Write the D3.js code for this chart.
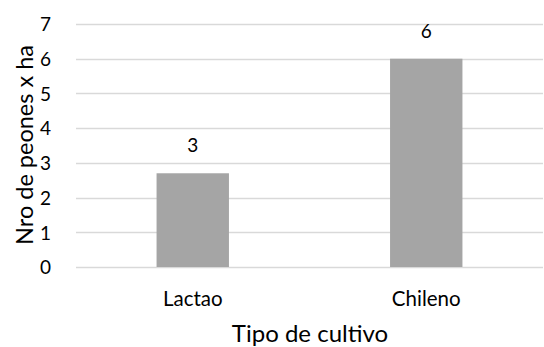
<!DOCTYPE html>
<html>
<head>
<meta charset="utf-8">
<script src="https://cdn.jsdelivr.net/npm/d3@7"></script>
<style>
  html, body { margin: 0; padding: 0; background: #fff; }
  svg text { font-family: Lato, "Open Sans", sans-serif; fill: #000; }
</style>
</head>
<body>
<svg id="chart" width="544" height="347"></svg>
<script>
// Labour demand per crop type
const categories = ["Lactao", "Chileno"];
const peones = [2.7, 6];
const yTicks = [0, 1, 2, 3, 4, 5, 6, 7];

const svg = d3.select("#chart");
const margin = { top: 24, right: 1, bottom: 80, left: 76 };
const W = 544, H = 347;
const innerW = W - margin.left - margin.right;
const innerH = H - margin.top - margin.bottom;

const g = svg.append("g").attr("transform", `translate(${margin.left},${margin.top})`);

const x = d3.scaleBand().domain(categories).range([0, innerW]).paddingInner(0.69).paddingOuter(0.345);
const y = d3.scaleLinear().domain([0, 7]).range([innerH, 0]);

// Horizontal gridlines
g.append("g")
  .selectAll("line")
  .data(yTicks)
  .join("line")
  .attr("x1", 0).attr("x2", innerW)
  .attr("y1", d => Math.round(y(d)) + 0.5).attr("y2", d => Math.round(y(d)) + 0.5)
  .attr("stroke", "#d9d9d9").attr("stroke-width", 1.5);

// Y axis labels
const yAxis = g.append("g").attr("transform", "translate(-25,0)")
  .call(d3.axisLeft(y).tickValues(yTicks).tickFormat(d3.format("d")).tickSize(0).tickPadding(0));
yAxis.select(".domain").remove();
yAxis.selectAll("text").style("font-size", "19px").attr("fill", "#000").attr("dy", "0.36em");

// Bars
g.selectAll("rect.bar")
  .data(peones)
  .join("rect")
  .attr("class", "bar")
  .attr("x", (d, i) => x(categories[i]))
  .attr("width", x.bandwidth())
  .attr("y", d => y(d))
  .attr("height", d => innerH - y(d))
  .attr("fill", "#a5a5a5");

// Value labels
g.selectAll("text.val")
  .data(peones)
  .join("text")
  .attr("class", "val")
  .attr("x", (d, i) => x(categories[i]) + x.bandwidth() / 2)
  .attr("y", d => y(d) - 28)
  .attr("text-anchor", "middle")
  .attr("dy", "0.36em")
  .style("font-size", "19px")
  .text(d3.format(".0f"));

// X axis labels
const xAxis = g.append("g").attr("transform", `translate(0,${innerH + 32})`)
  .call(d3.axisBottom(x).tickSize(0).tickPadding(0));
xAxis.select(".domain").remove();
xAxis.selectAll("text").style("font-size", "20.5px").attr("fill", "#000").attr("dy", "0.36em");

// Axis titles
svg.append("text")
  .attr("x", 310).attr("y", 333)
  .attr("text-anchor", "middle")
  .attr("dy", "0.36em")
  .style("font-size", "24px")
  .text("Tipo de cultivo");

svg.append("text")
  .attr("transform", "translate(25,145) rotate(-90)")
  .attr("text-anchor", "middle")
  .attr("dy", "0.36em")
  .style("font-size", "23.5px")
  .text("Nro de peones x ha");
</script>
</body>
</html>
